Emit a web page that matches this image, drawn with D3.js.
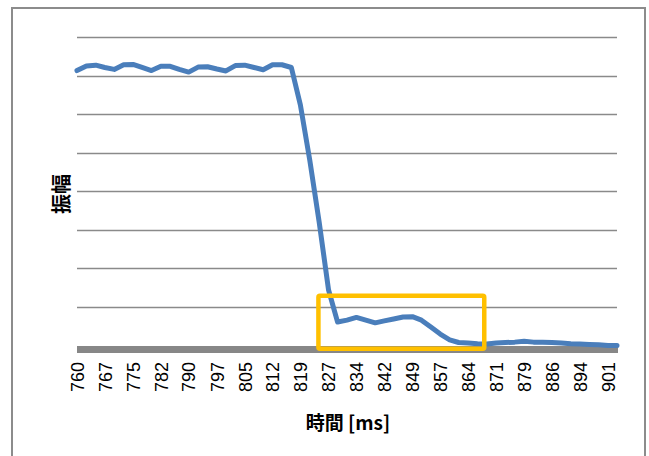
<!DOCTYPE html>
<html>
<head>
<meta charset="utf-8">
<script src="https://cdn.jsdelivr.net/npm/d3@7"></script>
<style>
  html, body { margin: 0; padding: 0; background: #fff; }
  svg { display: block; }
</style>
</head>
<body>
<svg id="chart" width="649" height="456"></svg>
<script>
// Sample times (ms), one every ~2.48 ms
const times = [
  760.0, 762.5, 765.0, 767.4, 769.9, 772.4, 774.9, 777.3, 779.8, 782.3,
  784.8, 787.2, 789.7, 792.2, 794.7, 797.2, 799.6, 802.1, 804.6, 807.1,
  809.5, 812.0, 814.5, 817.0, 819.4, 821.9, 824.4, 826.9, 829.3, 831.8,
  834.3, 836.8, 839.3, 841.7, 844.2, 846.7, 849.2, 851.6, 854.1, 856.6,
  859.1, 861.5, 864.0, 866.5, 869.0, 871.5, 873.9, 876.4, 878.9, 881.4,
  883.8, 886.3, 888.8, 891.3, 893.7, 896.2, 898.7, 901.2, 903.6
];

// Amplitude at each sample (gridline units)
const amplitude = [
  7.13, 7.25, 7.27, 7.21, 7.16, 7.28, 7.29, 7.21, 7.13, 7.24,
  7.24, 7.16, 7.09, 7.22, 7.23, 7.17, 7.12, 7.26, 7.27, 7.21,
  7.15, 7.28, 7.28, 7.21, 6.24, 4.81, 3.20, 1.44, 0.61, 0.66,
  0.73, 0.66, 0.59, 0.64, 0.69, 0.74, 0.75, 0.66, 0.48, 0.30,
  0.15, 0.08, 0.07, 0.05, 0.04, 0.07, 0.08, 0.09, 0.11, 0.09,
  0.09, 0.08, 0.07, 0.05, 0.04, 0.03, 0.02, 0.00, 0.00
];

// Labels shown on every third sample
const tickLabels = [
  "760", "767", "775", "782", "790", "797", "805", "812", "819", "827",
  "834", "842", "849", "857", "864", "871", "879", "886", "894", "901"
];
const labelEvery = 3;

// Amplitude gridlines
const gridValues = [1, 2, 3, 4, 5, 6, 7, 8];

// Highlighted region: time range (ms) and amplitude range
const highlightTime = [824.2, 868.3];
const highlightAmp = [-0.08, 1.29];

const svg = d3.select("#chart");

const plot = { left: 77, right: 617, top: 37, bottom: 345.6 };

const x = d3.scaleLinear()
  .domain([times[0], times[times.length - 1]])
  .range([plot.left, plot.right]);

const y = d3.scaleLinear()
  .domain([0, 8])
  .range([plot.bottom, plot.top]);

// Outer chart frame
svg.append("rect")
  .attr("x", 12).attr("y", 8)
  .attr("width", 633).attr("height", 470)
  .attr("fill", "#fff")
  .attr("stroke", "#8c8c8c")
  .attr("stroke-width", 2);

// Horizontal gridlines
svg.append("g")
  .selectAll("line")
  .data(gridValues)
  .join("line")
  .attr("x1", plot.left).attr("x2", plot.right)
  .attr("y1", d => Math.round(y(d)) + 0.5)
  .attr("y2", d => Math.round(y(d)) + 0.5)
  .attr("stroke", "#8a8a8a")
  .attr("stroke-width", 1.6);

// Category axis with rotated labels
const tickTimes = times.filter((_, i) => i % labelEvery === 0);
const xAxis = d3.axisBottom(x)
  .tickValues(tickTimes)
  .tickSize(0)
  .tickFormat((d, i) => tickLabels[i]);

const axisG = svg.append("g")
  .attr("transform", `translate(0,${y(0)})`)
  .call(xAxis);
axisG.select(".domain").remove();
axisG.selectAll("text")
  .attr("transform", "rotate(-90)")
  .attr("x", -(362 - y(0)))
  .attr("y", 0)
  .attr("dy", "0.35em")
  .attr("text-anchor", "end")
  .attr("fill", "#000")
  .style("font-family", "'Liberation Sans', Arial, sans-serif")
  .style("font-size", "18px");

// Thick horizontal axis line
svg.append("line")
  .attr("x1", plot.left).attr("x2", plot.right + 1)
  .attr("y1", y(0) + 4).attr("y2", y(0) + 4)
  .attr("stroke", "#878787")
  .attr("stroke-width", 7);

// Amplitude series
const line = d3.line()
  .x((d, i) => x(times[i]))
  .y(d => y(d));

svg.append("path")
  .datum(amplitude)
  .attr("d", line)
  .attr("fill", "none")
  .attr("stroke", "#4a7ebb")
  .attr("stroke-width", 5)
  .attr("stroke-linejoin", "round")
  .attr("stroke-linecap", "round");

// Highlight box
svg.append("rect")
  .attr("x", x(highlightTime[0]))
  .attr("y", y(highlightAmp[1]))
  .attr("width", x(highlightTime[1]) - x(highlightTime[0]))
  .attr("height", y(highlightAmp[0]) - y(highlightAmp[1]))
  .attr("rx", 1.5)
  .attr("fill", "none")
  .attr("stroke", "#ffc000")
  .attr("stroke-width", 4.5);

// Axis titles
svg.append("text")
  .attr("x", 348).attr("y", 421)
  .attr("text-anchor", "middle")
  .attr("dominant-baseline", "central")
  .style("font-family", "'Noto Sans CJK JP', sans-serif")
  .style("font-weight", "bold")
  .style("font-size", "19px")
  .text("時間 [ms]");

svg.append("text")
  .attr("transform", "translate(60,194) rotate(-90)")
  .attr("text-anchor", "middle")
  .attr("dominant-baseline", "central")
  .style("font-family", "'Noto Sans CJK JP', sans-serif")
  .style("font-weight", "bold")
  .style("font-size", "20px")
  .text("振幅");
</script>
</body>
</html>
